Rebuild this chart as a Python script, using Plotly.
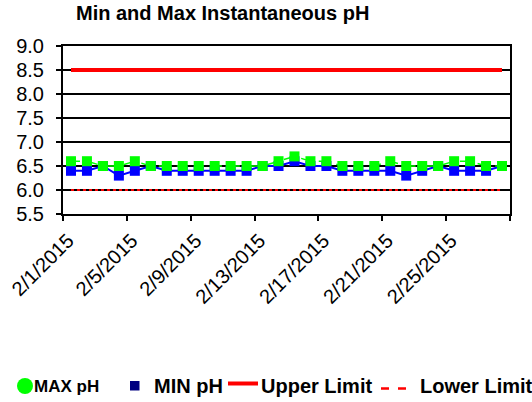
import plotly.graph_objects as go
import pandas as pd

dates = [d.strftime("%Y-%m-%d") for d in pd.date_range("2015-02-01", "2015-02-28")]
max_ph = [6.6, 6.6, 6.5, 6.5, 6.6, 6.5, 6.5, 6.5, 6.5, 6.5, 6.5, 6.5, 6.5, 6.6,
          6.7, 6.6, 6.6, 6.5, 6.5, 6.5, 6.6, 6.5, 6.5, 6.5, 6.6, 6.6, 6.5, 6.5]
min_ph = [6.4, 6.4, 6.5, 6.3, 6.4, 6.5, 6.4, 6.4, 6.4, 6.4, 6.4, 6.4, 6.5, 6.5,
          6.6, 6.5, 6.5, 6.4, 6.4, 6.4, 6.4, 6.3, 6.4, 6.5, 6.4, 6.4, 6.4, 6.5]
upper_limit = 8.5
lower_limit = 6.0
tick_positions = ["2015-01-31 12:00", "2015-02-04 12:00", "2015-02-08 12:00",
                  "2015-02-12 12:00", "2015-02-16 12:00", "2015-02-20 12:00",
                  "2015-02-24 12:00", "2015-02-28 12:00"]
tick_labels = ["2/1/2015", "2/5/2015", "2/9/2015", "2/13/2015", "2/17/2015",
               "2/21/2015", "2/25/2015", ""]
legend_names = ["MAX pH", "MIN pH", "Upper Limit", "Lower Limit"]

FONT = "Arial, Liberation Sans, sans-serif"
W, H = 532, 402
ML, MR, MT, MB = 63, 22, 46, 188
PW, PH = W - ML - MR, H - MT - MB


def px(x):
    return (x - ML) / PW


def py(y):
    return (H - MB - y) / PH


fig = go.Figure()

fig.add_trace(go.Scatter(x=dates, y=[upper_limit] * len(dates), mode="lines",
                         name=legend_names[2], line=dict(color="#FF0000", width=4)))
fig.add_trace(go.Scatter(x=dates, y=[lower_limit] * len(dates), mode="lines",
                         name=legend_names[3], line=dict(color="#FF0000", width=2, dash="dot")))
fig.add_trace(go.Scatter(x=dates, y=min_ph, mode="lines+markers", name=legend_names[1],
                         line=dict(color="#0000FF", width=2),
                         marker=dict(symbol="square", size=10, color="#0000FF")))
fig.add_trace(go.Scatter(x=dates, y=max_ph, mode="lines+markers", name=legend_names[0],
                         line=dict(color="#00FF00", width=1.5, dash="dash"),
                         marker=dict(symbol="square", size=10, color="#00FF00")))

# manual legend (symbols + labels) below the chart
shapes = [
    dict(type="circle", xref="paper", yref="paper", x0=px(17), x1=px(33), y0=py(394), y1=py(378),
         fillcolor="#00FF00", line=dict(width=0)),
    dict(type="rect", xref="paper", yref="paper", x0=px(130), x1=px(139.5), y0=py(390.5), y1=py(381),
         fillcolor="#000080", line=dict(width=0)),
    dict(type="line", xref="paper", yref="paper", x0=px(228), x1=px(258), y0=py(383.5), y1=py(383.5),
         line=dict(color="#FF0000", width=4)),
    dict(type="line", xref="paper", yref="paper", x0=px(381), x1=px(407), y0=py(388.5), y1=py(388.5),
         line=dict(color="#FF0000", width=2.5, dash="8px,9px")),
]
annotations = [
    dict(text="<b>Min and Max Instantaneous pH</b>", xref="paper", yref="paper",
         x=px(222), y=py(13), xanchor="center", yanchor="middle", showarrow=False,
         font=dict(family=FONT, size=20, color="black")),
]
for label, lx, size in zip(legend_names, [33, 153, 260, 419], [17, 20, 20, 20]):
    annotations.append(dict(text="<b>" + label + "</b>", xref="paper", yref="paper",
                            x=px(lx), y=py(386), xanchor="left", yanchor="middle",
                            showarrow=False, borderpad=0,
                            font=dict(family=FONT, size=size, color="black")))

fig.update_layout(
    width=W, height=H,
    margin=dict(l=ML, r=MR, t=MT, b=MB, autoexpand=False),
    paper_bgcolor="white", plot_bgcolor="white",
    font=dict(family=FONT, color="black", size=20),
    showlegend=False,
    hovermode=False,
    shapes=shapes,
    annotations=annotations,
    xaxis=dict(type="date", range=["2015-01-31 12:00", "2015-02-28 12:00"],
               tickmode="array", tickvals=tick_positions, ticktext=tick_labels,
               tickangle=-45, ticks="outside", ticklen=5, tickcolor="black", tickwidth=2,
               ticklabelshift=5,
               showline=True, linecolor="black", linewidth=2, mirror=True,
               showgrid=False, zeroline=False, automargin=False,
               tickfont=dict(family=FONT, size=20, color="black")),
    yaxis=dict(range=[5.5, 9.0], dtick=0.5, tick0=5.5, tickformat=".1f",
               ticks="outside", ticklen=5, tickcolor="black", tickwidth=2,
               ticklabelstandoff=8, automargin=False,
               showline=True, linecolor="black", linewidth=2, mirror=True,
               showgrid=True, gridcolor="black", gridwidth=1.5, zeroline=False,
               tickfont=dict(family=FONT, size=20, color="black")),
)

fig.write_html("out.html", config={"displayModeBar": False},
               post_script="document.body.style.margin='0';")
